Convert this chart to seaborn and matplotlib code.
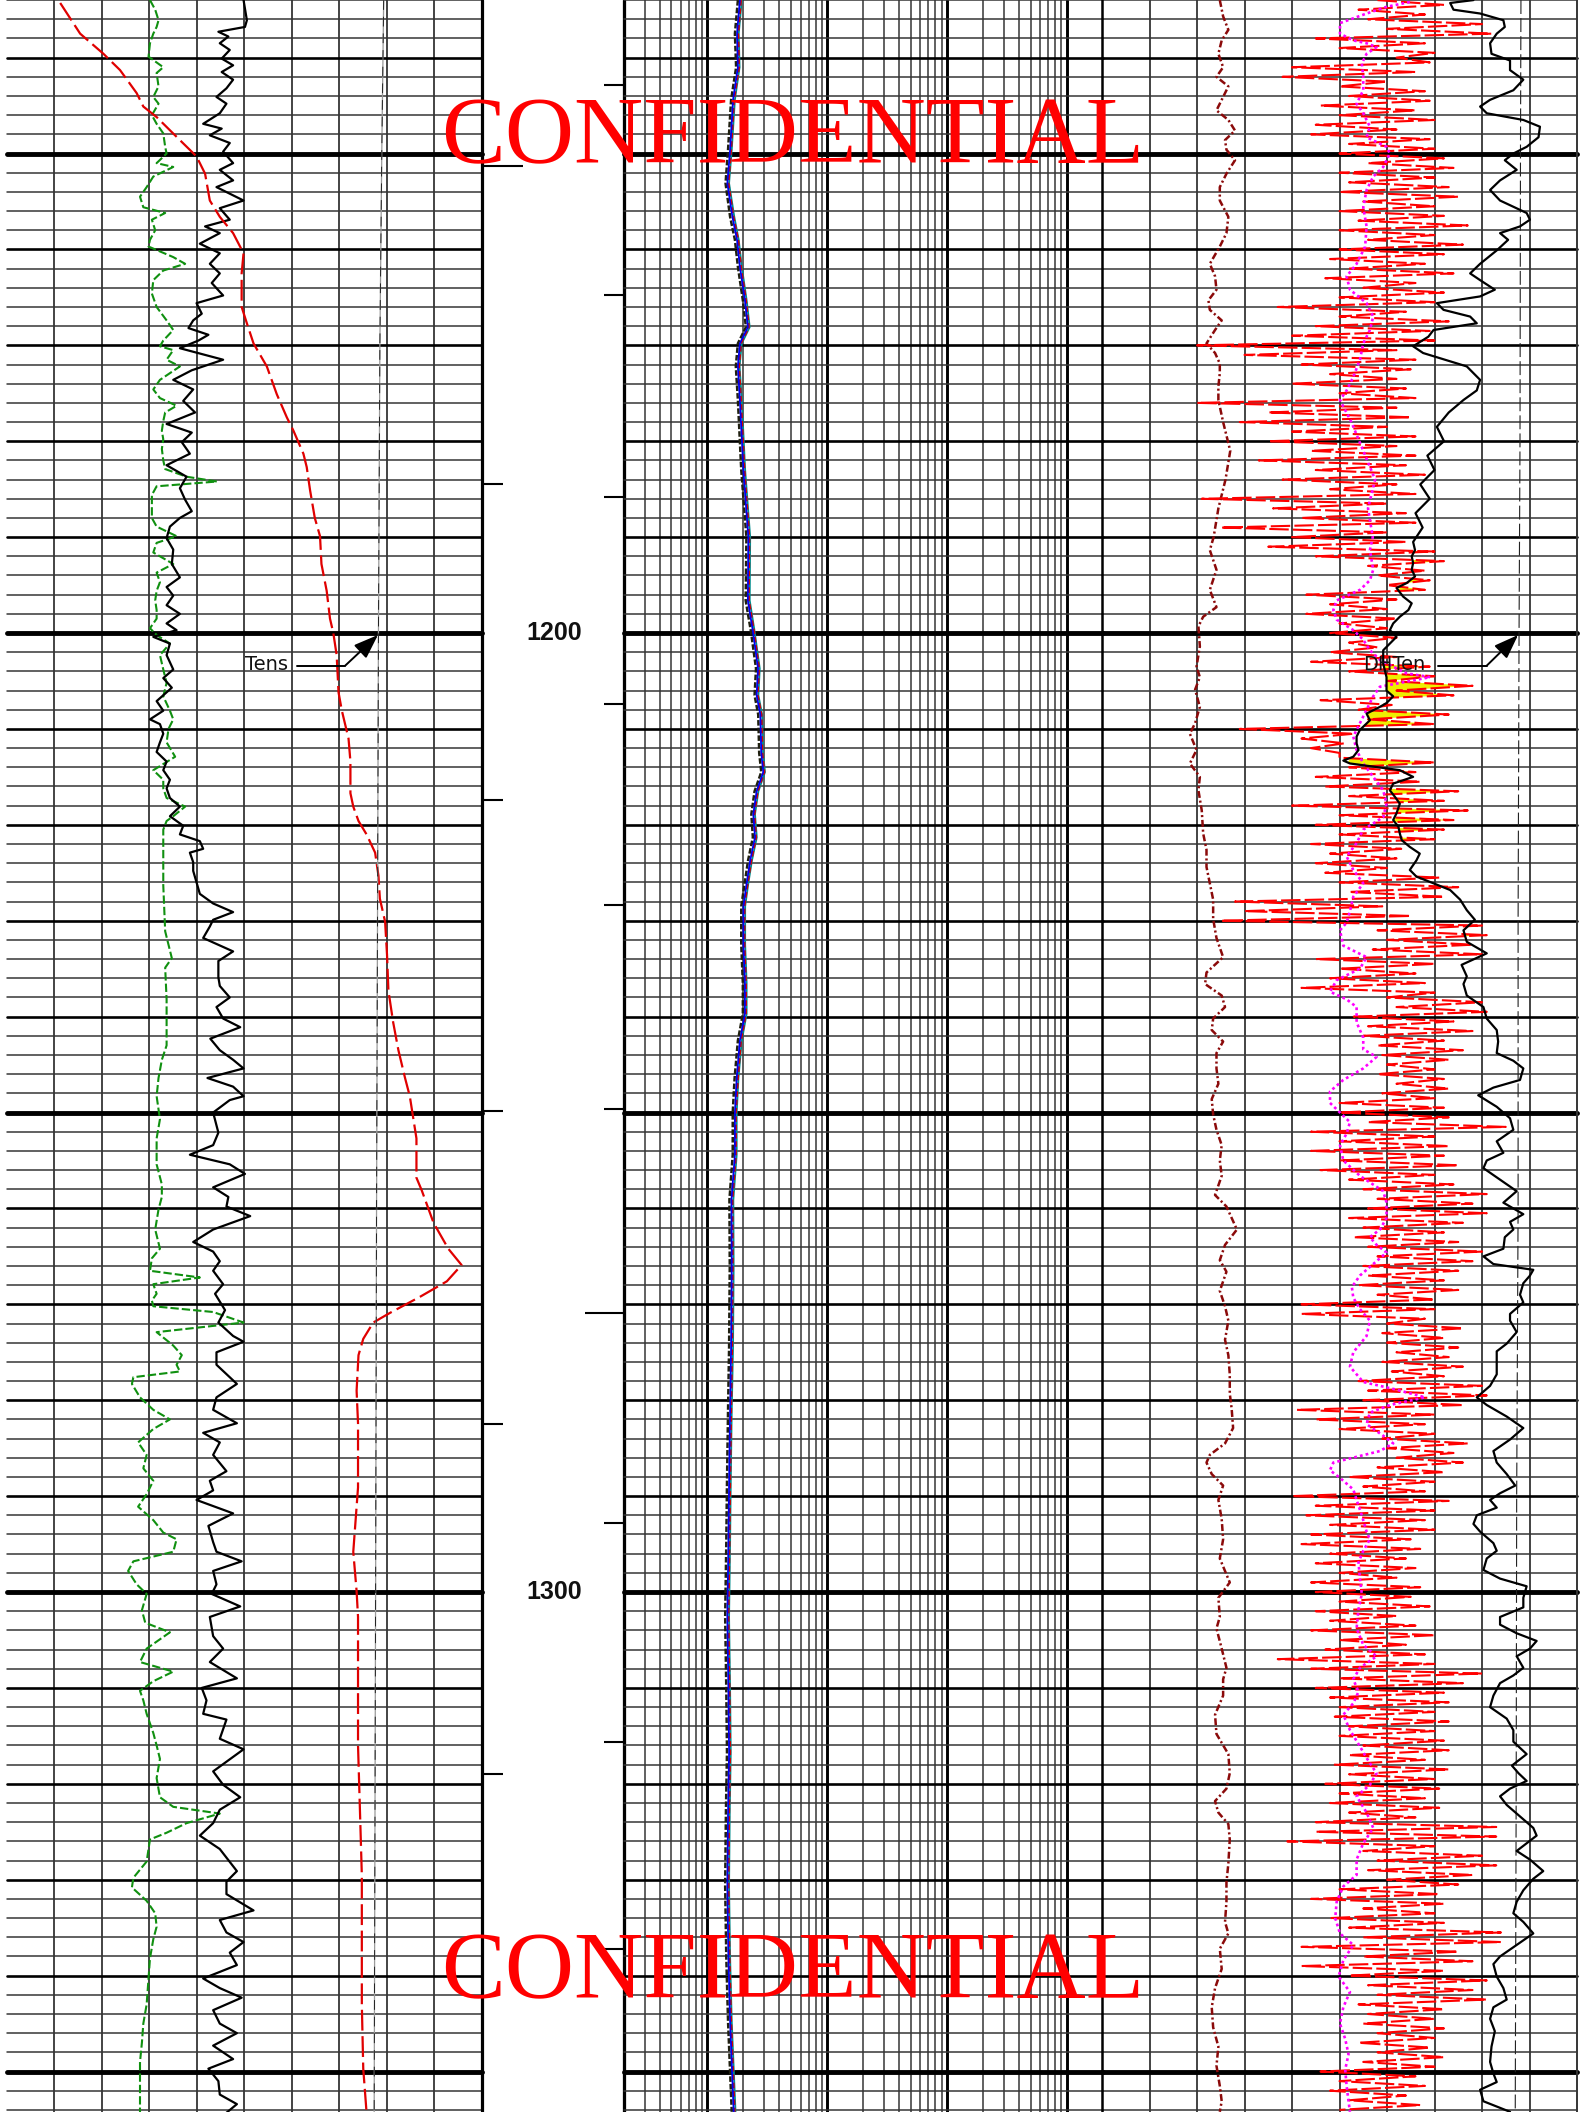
import numpy as np
import matplotlib
matplotlib.use("Agg")
import matplotlib.pyplot as plt
import seaborn as sns

sns.set_theme(style="white")
plt.rcParams["font.family"] = ["DejaVu Sans"]
plt.rcParams["lines.scale_dashes"] = False

TOP_DEPTH, BOTTOM_DEPTH = 1133.99, 1354.22
DEPTH_LABELS = [1200, 1300]
LEFT_TICKS = [1151.3, 1184.5, 1217.4, 1249.8, 1282.5, 1319.0]
RIGHT_TICKS = [1142.9, 1164.7, 1185.8, 1207.4, 1228.4, 1249.6, 1270.9, 1292.8, 1315.6, 1337.2]

# ---------------- Track 1 (linear 0-100) ----------------
GR_T1 = [
    (1134.0, 49.8), (1136.1, 50.5), (1136.8, 50.1), (1137.3, 44.5), (1137.8, 46.6), (1138.5, 44.8), (1139.2, 46.9), (1140.1, 45.2), (1140.8, 47.6), (1141.5, 45.2),
    (1142.3, 47.6), (1143.2, 46.2), (1144.1, 44.1), (1144.8, 46.2), (1145.8, 44.8), (1146.9, 41.3), (1147.4, 45.2), (1148.1, 42.7), (1148.9, 46.9), (1149.8, 45.5),
    (1151.0, 47.6), (1151.7, 44.8), (1152.8, 47.6), (1153.5, 44.1), (1154.9, 49.8), (1155.7, 44.8), (1156.9, 46.9), (1157.6, 41.7), (1158.3, 44.8), (1159.4, 40.6),
    (1160.4, 44.8), (1161.5, 42.7), (1162.5, 44.8), (1163.5, 43.1), (1164.8, 45.5), (1165.6, 39.9), (1166.7, 41.0), (1167.4, 39.2), (1168.2, 38.2), (1168.9, 42.4),
    (1169.5, 40.3), (1170.3, 36.4), (1171.5, 45.5), (1172.6, 38.9),
    (1173.6, 35.0), (1174.6, 39.2), (1175.8, 37.1), (1177.0, 39.6), (1178.2, 33.6), (1179.1, 38.9), (1180.1, 36.8), (1181.3, 38.5), (1182.5, 33.6), (1183.7, 37.8),
    (1184.9, 36.4), (1186.1, 37.5), (1187.3, 38.9), (1188.0, 36.4), (1188.9, 34.3), (1190.1, 33.6), (1191.3, 35.0), (1192.8, 34.7), (1194.2, 36.4), (1195.2, 33.6),
    (1196.1, 35.0), (1197.1, 33.6), (1198.0, 36.4), (1199.0, 33.6), (1199.7, 35.7), (1200.4, 30.8), (1201.1, 34.3), (1202.3, 33.6), (1203.8, 35.0), (1204.7, 32.9),
    (1205.7, 34.7), (1207.1, 31.5), (1208.1, 32.9), (1209.0, 30.1), (1209.5, 32.2), (1210.5, 32.9), (1211.4, 32.2), (1212.4, 31.5), (1213.4, 33.6), (1214.3, 32.9),
    (1215.3, 34.3), (1216.2, 33.6), (1217.2, 34.3), (1218.1, 36.4), (1219.1, 34.3), (1220.1, 37.1), (1221.0, 36.4), (1221.7, 40.6), (1222.5, 41.3), (1222.9, 38.5),
    (1223.9, 39.2), (1224.8, 39.2), (1226.0, 39.9), (1227.2, 40.6), (1228.2, 43.4), (1229.1, 47.6), (1229.9, 43.4), (1230.6, 42.7), (1231.8, 41.3), (1233.2, 47.6),
    (1234.2, 44.5), (1235.9, 44.5), (1236.8, 44.8), (1238.0, 46.9), (1239.0, 44.1), (1240.2, 45.5), (1241.1, 49.1), (1242.3, 42.8), (1243.5, 44.8), (1244.5, 47.6),
    (1245.4, 49.8), (1246.4, 42.2), (1247.3, 47.6), (1248.3, 49.8),
    (1248.7, 46.9), (1250.0, 43.4), (1252.1, 44.5), (1253.4, 43.4), (1254.4, 38.5), (1255.4, 46.9), (1256.4, 50.1), (1257.8, 43.4), (1258.8, 46.6), (1259.8, 46.2),
    (1260.8, 51.2), (1262.2, 43.4), (1263.5, 39.2), (1264.5, 43.4), (1265.5, 44.8), (1266.5, 43.4), (1267.9, 45.5), (1268.9, 43.8), (1270.6, 45.9), (1271.9, 44.5),
    (1273.3, 47.6), (1273.9, 49.8), (1275.0, 44.1), (1276.3, 44.1), (1278.3, 48.4), (1279.7, 44.1), (1281.0, 43.4), (1282.4, 48.4), (1283.4, 41.3), (1284.4, 44.8),
    (1285.7, 43.4), (1287.4, 46.2), (1288.4, 42.7), (1289.4, 43.4), (1290.4, 39.9), (1291.8, 47.6), (1293.1, 42.4), (1294.8, 43.4), (1295.8, 44.1), (1296.8, 49.4),
    (1297.8, 43.4), (1299.2, 44.1), (1300.2, 43.1), (1301.5, 49.1), (1302.6, 42.7), (1304.6, 43.4), (1305.9, 45.5), (1307.3, 42.7), (1309.0, 48.4), (1310.0, 41.0),
    (1311.3, 42.0), (1312.7, 41.3), (1313.3, 46.2), (1315.3, 44.8), (1316.4, 49.8), (1317.7, 46.2), (1318.7, 43.4), (1320.1, 45.5), (1321.4, 49.1), (1322.7, 44.8),
    (1324.1, 43.4), (1325.4, 40.6), (1326.8, 44.8), (1329.1, 48.4), (1330.2, 46.2), (1331.5, 46.2), (1333.2, 51.9), (1334.2, 44.8), (1335.5, 46.2), (1336.5, 49.8),
    (1337.6, 46.9), (1338.9, 48.4), (1340.3, 41.3), (1341.3, 44.8), (1342.3, 49.4), (1343.6, 43.4), (1345.0, 44.8), (1346.0, 48.4), (1347.3, 43.4), (1348.7, 47.6),
    (1349.7, 42.4), (1351.0, 44.5), (1352.4, 44.8), (1353.4, 48.4), (1354.3, 46.2),
]

SP_T1 = [
    (1134.0, 30.1), (1135.0, 31.2), (1136.1, 31.9), (1136.8, 31.5), (1137.5, 30.8), (1138.5, 30.1), (1139.9, 29.8), (1141.0, 32.9), (1141.6, 31.5), (1143.0, 31.9),
    (1144.1, 30.8), (1144.8, 31.9), (1146.0, 30.5), (1146.9, 31.5), (1147.9, 32.9), (1149.3, 33.3), (1150.0, 33.6), (1151.0, 31.5), (1151.4, 35.0), (1152.4, 30.8),
    (1153.5, 29.4), (1154.5, 28.0), (1155.6, 28.7), (1156.2, 33.3), (1156.9, 30.5), (1158.0, 31.2), (1159.0, 30.1), (1159.7, 29.8), (1160.8, 35.0), (1161.5, 37.5),
    (1162.2, 32.9), (1163.2, 30.8), (1164.6, 30.5), (1166.0, 31.5), (1167.4, 33.6), (1168.4, 35.0), (1169.5, 32.9), (1170.1, 32.2), (1170.5, 35.0), (1171.5, 33.6),
    (1172.2, 36.4),
    (1173.6, 32.2), (1174.6, 30.8), (1175.5, 32.2), (1176.3, 35.7), (1177.0, 33.3), (1177.9, 32.9), (1178.9, 32.6), (1179.8, 32.9), (1180.8, 32.6), (1182.0, 32.9),
    (1182.9, 33.3), (1183.7, 37.8), (1184.2, 44.2), (1184.7, 31.5), (1185.6, 30.5), (1186.5, 30.5), (1188.0, 30.5), (1188.9, 31.5), (1189.9, 35.7), (1190.6, 31.5),
    (1191.6, 30.8), (1192.8, 35.0), (1193.7, 31.5), (1194.7, 32.2), (1195.6, 31.5), (1196.6, 31.2), (1197.6, 31.5), (1198.5, 31.5), (1199.5, 30.1), (1200.2, 31.5),
    (1201.1, 34.3), (1202.3, 32.2), (1203.8, 32.9), (1205.2, 33.6), (1206.6, 32.9), (1208.1, 34.3), (1209.0, 35.0), (1210.0, 34.0), (1211.4, 33.6), (1212.9, 35.4),
    (1214.3, 30.8), (1215.3, 32.9), (1216.2, 32.9), (1217.2, 33.6), (1218.1, 37.5), (1219.1, 35.0), (1219.6, 33.6), (1220.5, 32.9), (1226.3, 32.9), (1231.1, 33.3),
    (1233.9, 34.7), (1234.9, 33.3), (1238.2, 33.6), (1243.0, 33.6), (1244.5, 32.6), (1246.4, 31.9), (1248.3, 31.5),
    (1250.7, 32.2), (1252.7, 31.5), (1255.4, 31.5), (1257.5, 32.6), (1258.8, 32.6), (1260.1, 31.9), (1262.2, 31.2), (1264.2, 32.2), (1265.2, 30.5), (1266.5, 30.1),
    (1267.2, 40.6), (1267.9, 30.8), (1268.9, 31.5), (1269.6, 30.5), (1270.2, 30.8), (1270.8, 43.4), (1271.9, 49.8), (1272.9, 31.5), (1274.3, 35.0), (1275.3, 36.8),
    (1276.3, 35.7), (1277.0, 36.4), (1277.6, 26.6), (1278.3, 26.3), (1279.7, 28.0), (1281.0, 30.8), (1282.0, 34.3), (1283.0, 30.8), (1284.4, 27.6), (1285.7, 29.4),
    (1287.1, 28.7), (1288.4, 30.8), (1289.8, 29.4), (1291.1, 27.6), (1292.5, 30.8), (1293.8, 32.9), (1294.5, 35.7), (1295.8, 35.0), (1296.8, 26.6), (1297.8, 25.5),
    (1299.2, 27.3), (1300.2, 29.4), (1301.9, 28.4), (1303.2, 29.1), (1304.2, 34.3), (1305.9, 29.4), (1307.3, 28.0), (1308.3, 35.0), (1309.3, 30.8), (1310.3, 28.0),
    (1311.3, 28.7), (1312.7, 29.4), (1314.7, 30.8), (1316.0, 31.5), (1317.4, 32.2), (1319.4, 31.5), (1321.4, 32.2), (1322.4, 35.0), (1323.1, 44.8), (1324.1, 37.8),
    (1325.1, 33.6), (1325.8, 30.1), (1326.8, 29.8), (1328.1, 29.4), (1329.8, 26.6), (1330.8, 26.3), (1332.2, 29.4), (1333.5, 31.2), (1334.9, 31.5), (1336.2, 30.8),
    (1338.2, 30.1), (1340.3, 29.8), (1343.0, 29.4), (1345.0, 28.7), (1347.0, 28.4), (1349.0, 28.0), (1351.0, 28.0), (1354.3, 28.0),
]

TENS_T1 = [
    (1134.3, 11.2), (1137.5, 15.4), (1139.6, 20.3), (1141.3, 23.8), (1143.7, 27.3), (1145.1, 28.7), (1146.2, 31.5), (1148.6, 36.4), (1150.3, 39.9), (1152.1, 41.7),
    (1154.9, 42.7), (1156.6, 44.8), (1158.3, 47.6), (1160.4, 49.8), (1162.5, 49.4), (1166.0, 49.4), (1167.7, 50.5), (1169.8, 51.9), (1172.2, 54.7),
    (1175.1, 56.8), (1177.5, 58.9), (1178.9, 60.3), (1181.3, 62.4), (1182.7, 63.1), (1185.1, 63.8), (1188.0, 64.8), (1189.9, 65.9), (1192.8, 66.2), (1195.6, 67.3),
    (1198.5, 68.0), (1200.0, 68.7), (1202.3, 69.4), (1206.2, 69.8), (1208.1, 70.5), (1211.0, 71.9), (1213.4, 72.3), (1216.7, 72.3), (1218.1, 72.9), (1219.6, 74.0),
    (1221.0, 75.7), (1222.9, 77.5), (1225.3, 78.2), (1227.7, 78.5), (1230.1, 79.6), (1233.5, 80.0), (1237.3, 80.3), (1240.6, 81.3), (1243.5, 82.4), (1246.4, 83.8),
    (1248.3, 84.8), (1252.7, 86.2), (1256.8, 86.2), (1258.1, 87.3), (1261.5, 89.8), (1264.2, 92.9), (1265.9, 95.7), (1267.6, 92.6), (1269.2, 87.0), (1270.9, 80.6),
    (1271.9, 77.1), (1273.6, 75.0), (1275.3, 74.0), (1279.0, 73.6), (1282.4, 73.9), (1289.1, 73.9), (1295.8, 72.9), (1299.9, 73.6), (1302.6, 73.9), (1309.3, 73.9),
    (1316.0, 73.9), (1322.7, 74.3), (1329.5, 74.7), (1336.2, 74.7), (1343.0, 74.7), (1349.7, 75.0), (1354.3, 75.7),
]

TENS_LINE_DEPTH = [1134, 1150, 1170, 1200, 1230, 1260, 1300, 1354.3]
TENS_LINE_T1 = [79.3, 78.9, 78.5, 78.2, 78.0, 77.8, 77.6, 77.3]

# ---------------- Track 2 (log 0.2-2000) ----------------
RES_DEPTH = [1134, 1137.5, 1141, 1144.4, 1149.6, 1153.1, 1156.6, 1159, 1161.8, 1165.3,
             1168.1, 1169.8, 1172.2, 1175.7, 1183, 1190, 1196.6, 1199.8, 1203.7, 1206.5,
             1208.5, 1212.5, 1214.5, 1216.5, 1218.9, 1221.3, 1223.7, 1226.1, 1228.5, 1232.5,
             1236.5, 1239.7, 1242.5, 1246.4, 1250, 1254.4, 1259.1, 1266, 1274.5, 1281,
             1288.6, 1295, 1302.6, 1310, 1316.7, 1323, 1330.7, 1338, 1344.8, 1354.2]
RES_BLUE = [1.87, 1.77, 1.80, 1.64, 1.55, 1.47, 1.62, 1.77, 1.87, 2.06,
            2.18, 1.87, 1.80, 1.87, 2.00, 2.20, 2.18, 2.40, 2.65, 2.58,
            2.77, 2.82, 2.93, 2.58, 2.42, 2.50, 2.28, 2.13, 2.00, 2.00,
            2.06, 2.06, 1.87, 1.76, 1.70, 1.70, 1.59, 1.60, 1.58, 1.55,
            1.52, 1.50, 1.47, 1.50, 1.52, 1.49, 1.47, 1.50, 1.55, 1.66]
RES_BLACK = [1.80, 1.70, 1.74, 1.58, 1.49, 1.42, 1.55, 1.70, 1.80, 1.98,
             2.10, 1.80, 1.73, 1.80, 1.92, 2.12, 2.09, 2.31, 2.55, 2.48,
             2.66, 2.71, 2.82, 2.48, 2.33, 2.40, 2.19, 2.05, 1.92, 1.92,
             1.98, 1.98, 1.80, 1.69, 1.63, 1.63, 1.53, 1.54, 1.52, 1.49,
             1.46, 1.44, 1.41, 1.44, 1.46, 1.43, 1.41, 1.44, 1.49, 1.60]
RES_RED = [1.91, 1.81, 1.84, 1.67, 1.58, 1.50, 1.65, 1.81, 1.91, 2.10,
           2.22, 1.91, 1.84, 1.91, 2.04, 2.24, 2.22, 2.45, 2.70, 2.63,
           2.83, 2.88, 2.99, 2.63, 2.47, 2.55, 2.33, 2.17, 2.04, 2.04,
           2.10, 2.10, 1.91, 1.80, 1.73, 1.73, 1.62, 1.63, 1.61, 1.58,
           1.55, 1.53, 1.50, 1.53, 1.55, 1.52, 1.50, 1.53, 1.58, 1.69]
RES_TEAL = [1.94, 1.83, 1.86, 1.70, 1.60, 1.52, 1.68, 1.83, 1.94, 2.13,
            2.26, 1.94, 1.86, 1.94, 2.07, 2.28, 2.26, 2.48, 2.74, 2.67,
            2.87, 2.92, 3.03, 2.67, 2.50, 2.59, 2.36, 2.20, 2.07, 2.07,
            2.13, 2.13, 1.94, 1.82, 1.76, 1.76, 1.65, 1.66, 1.64, 1.60,
            1.57, 1.55, 1.52, 1.55, 1.57, 1.54, 1.52, 1.55, 1.60, 1.72]

# ---------------- Track 3 (linear 0-100) ----------------
BROWN_T3 = [
    (1134.0, 24.8), (1135.7, 25.5), (1137.1, 26.6), (1138.2, 25.2), (1139.6, 24.5), (1141.0, 25.5), (1142.0, 24.1), (1143.0, 26.6), (1144.4, 25.2), (1145.5, 24.1),
    (1146.5, 26.6), (1147.6, 28.0), (1148.6, 25.9), (1149.6, 26.2), (1150.7, 28.0), (1152.1, 26.2), (1153.5, 24.8), (1154.9, 24.8), (1156.6, 26.6), (1158.3, 26.2),
    (1159.7, 24.8), (1161.5, 22.7), (1162.8, 23.8), (1164.2, 24.1), (1165.3, 22.4), (1166.3, 22.7), (1167.4, 25.2), (1168.4, 23.8), (1169.8, 22.0), (1170.8, 23.8),
    (1171.9, 24.8), (1172.9, 24.8), (1174.3, 24.5), (1175.7, 24.5), (1178.0, 25.5), (1181.0, 27.0), (1184.0, 26.0), (1187.0, 24.5), (1190.0, 23.5),
    (1191.35, 22.7), (1193.4, 24.1), (1195.5, 22.7), (1197.3, 24.1), (1198.3, 21.3), (1199.3, 20.3), (1201.4, 20.6), (1203.5, 19.9), (1204.6, 20.6), (1205.9, 19.6),
    (1207.7, 20.6), (1209.4, 19.6), (1210.5, 18.5), (1212.2, 19.9), (1213.6, 18.5), (1215.0, 20.6), (1216.4, 20.3), (1218.5, 21.0), (1220.9, 21.3), (1222.6, 22.0),
    (1224.4, 22.0), (1226.1, 22.7), (1227.8, 23.4), (1229.8, 23.4), (1231.8, 24.1), (1233.8, 25.5), (1235.4, 22.0), (1236.6, 21.7), (1237.8, 25.2), (1239.0, 25.9),
    (1240.2, 23.4), (1241.4, 23.1), (1242.6, 25.5), (1243.8, 24.1), (1245.4, 24.1), (1247.0, 24.5), (1248.6, 23.1), (1250.2, 23.4), (1251.8, 24.1), (1253.4, 25.2),
    (1255.0, 24.8), (1256.6, 25.2), (1258.6, 23.8), (1259.8, 26.2), (1261.0, 27.3), (1262.2, 28.4), (1263.8, 25.9), (1265.4, 24.8), (1266.6, 26.2), (1268.6, 24.8),
    (1270.2, 25.9), (1271.7, 26.6), (1273.7, 25.9), (1275.3, 26.6), (1277.3, 26.9), (1279.3, 26.9), (1280.9, 27.3), (1282.9, 27.6), (1284.5, 25.9), (1285.7, 22.7),
    (1286.5, 22.0), (1287.7, 23.1), (1288.9, 25.5), (1290.4, 24.5), (1292.4, 25.2), (1294.5, 25.5), (1296.5, 24.8), (1299.0, 26.9), (1300.6, 24.5), (1302.6, 24.8),
    (1303.8, 24.1), (1305.9, 25.2), (1307.9, 26.2), (1309.1, 25.5), (1310.8, 25.5), (1312.8, 23.8), (1314.8, 24.1), (1316.9, 26.6), (1318.9, 26.9), (1320.5, 26.2),
    (1321.8, 23.8), (1323.0, 24.5), (1324.2, 26.6), (1325.8, 26.9), (1328.3, 26.6), (1330.3, 26.2), (1332.3, 26.2), (1334.4, 25.9), (1335.6, 26.6), (1337.2, 24.8),
    (1339.3, 25.2), (1341.3, 23.8), (1343.3, 23.1), (1345.4, 23.4), (1347.4, 24.5), (1349.4, 24.1), (1351.5, 24.8), (1353.1, 25.2), (1354.2, 24.8),
]

MAGENTA_T3 = [
    (1134.2, 64.8), (1134.7, 59.9), (1135.4, 55.7), (1136.4, 50.1), (1137.5, 50.1), (1138.2, 52.9), (1138.5, 55.7), (1138.9, 57.8), (1139.6, 55.7), (1140.6, 54.7),
    (1142.0, 55.0), (1143.4, 55.0), (1144.8, 53.6), (1145.8, 55.0), (1147.2, 56.4), (1148.3, 55.7), (1149.3, 59.9), (1150.0, 60.6), (1151.4, 59.2), (1152.4, 57.1),
    (1153.8, 55.7), (1155.6, 55.0), (1157.6, 55.7), (1159.7, 55.4), (1161.5, 53.6), (1162.8, 51.5), (1164.2, 52.2), (1165.6, 55.7), (1167.0, 57.1), (1168.4, 56.4),
    (1169.8, 55.0), (1171.5, 54.3), (1173.3, 52.9), (1174.7, 51.5), (1175.7, 50.1), (1178.0, 52.5), (1181.0, 55.0), (1184.0, 57.5), (1187.0, 56.0), (1190.0, 57.0),
    (1191.35, 56.4), (1193.4, 57.1), (1194.5, 56.4), (1195.5, 54.3), (1196.6, 49.4), (1197.6, 48.7), (1198.6, 49.4), (1199.7, 52.9), (1200.7, 55.0), (1201.8, 56.4),
    (1202.8, 58.5), (1204.2, 64.1), (1204.6, 69.1), (1205.6, 58.5), (1206.6, 57.1), (1208.0, 55.7), (1209.4, 54.3), (1210.8, 52.9), (1212.2, 53.6), (1213.6, 55.0),
    (1215.0, 57.1), (1216.4, 59.2), (1217.8, 59.9), (1219.2, 59.2), (1220.5, 55.0), (1221.9, 53.6), (1223.3, 51.5), (1224.7, 52.9), (1226.1, 55.0), (1227.5, 52.9),
    (1229.0, 52.2), (1230.2, 51.5), (1231.0, 50.1), (1232.6, 50.8), (1233.8, 55.7), (1235.0, 54.3), (1236.2, 49.4), (1237.4, 48.0), (1238.2, 51.5), (1239.0, 53.6),
    (1240.6, 53.6), (1242.2, 55.0), (1243.4, 55.0), (1244.2, 57.8), (1245.4, 55.0), (1246.6, 50.8), (1247.8, 48.0), (1249.0, 48.0), (1250.0, 50.1), (1251.0, 52.2),
    (1252.2, 51.5), (1253.4, 50.1), (1255.0, 50.8), (1256.6, 54.3), (1258.2, 59.2), (1259.4, 59.9), (1261.0, 59.9), (1262.2, 58.5), (1263.0, 56.4), (1263.8, 57.8),
    (1264.6, 59.9), (1265.8, 57.1), (1267.0, 54.3), (1268.2, 52.6), (1269.3, 52.9), (1270.5, 54.3), (1271.7, 56.4), (1273.3, 55.7), (1275.0, 52.9), (1276.5, 52.2),
    (1278.1, 55.0), (1278.9, 62.0), (1279.7, 68.0), (1280.5, 60.6), (1281.3, 56.4), (1282.5, 55.7), (1283.7, 59.2), (1284.5, 61.3), (1285.3, 58.5), (1286.5, 48.7),
    (1287.3, 48.0), (1288.1, 50.1), (1289.3, 52.9), (1290.4, 53.6), (1292.0, 54.7), (1293.7, 55.7), (1294.5, 56.4), (1295.7, 55.0), (1296.9, 54.0), (1298.6, 54.3),
    (1300.2, 54.7), (1301.8, 54.0), (1303.8, 53.6), (1305.5, 55.0), (1306.7, 57.8), (1307.9, 54.3), (1309.1, 52.9), (1310.4, 54.0), (1311.6, 52.9), (1312.8, 50.8),
    (1314.4, 52.2), (1316.1, 54.3), (1317.3, 55.7), (1318.9, 57.8), (1320.1, 56.4), (1321.3, 53.6), (1323.0, 55.7), (1324.6, 57.1), (1326.2, 55.0), (1327.9, 53.6),
    (1329.5, 53.6), (1330.7, 50.8), (1332.3, 49.4), (1334.0, 49.1), (1335.6, 50.1), (1336.8, 52.9), (1338.4, 50.8), (1340.1, 49.8), (1341.7, 52.2), (1343.3, 50.8),
    (1345.0, 50.1), (1346.6, 51.2), (1348.2, 51.9), (1349.8, 51.2), (1351.5, 51.5), (1353.1, 51.9), (1354.2, 52.2),
]

BLACK_T3 = [
    (1134.0, 78.2), (1134.3, 73.3), (1135.0, 74.0), (1135.4, 79.6), (1136.1, 84.5), (1136.8, 84.8), (1137.5, 83.1), (1138.5, 81.7), (1139.6, 82.0), (1140.3, 85.9),
    (1141.3, 85.9), (1142.3, 88.7), (1143.4, 86.6), (1144.4, 81.7), (1145.1, 79.6), (1145.8, 81.0), (1146.5, 88.7), (1147.2, 92.2), (1148.3, 91.9), (1149.3, 89.4),
    (1150.0, 86.6), (1150.7, 84.8), (1151.7, 87.3), (1152.8, 83.8), (1153.8, 81.7), (1154.9, 83.8), (1156.2, 89.4), (1156.9, 90.1), (1157.6, 88.0), (1158.3, 83.8),
    (1159.0, 85.5), (1160.1, 83.1), (1161.5, 79.6), (1162.5, 77.5), (1163.2, 79.6), (1164.2, 82.7), (1164.9, 79.6), (1165.6, 70.5), (1166.3, 71.9), (1167.0, 77.5),
    (1167.7, 78.9), (1168.4, 69.8), (1169.1, 68.7), (1170.1, 65.5), (1170.8, 67.6), (1172.2, 76.8), (1173.6, 79.6), (1174.7, 78.9), (1175.7, 76.1), (1177.0, 73.0),
    (1178.5, 70.5), (1180.0, 72.0), (1181.5, 68.5), (1183.0, 70.0), (1184.5, 67.0), (1186.0, 69.0), (1187.5, 66.0), (1189.0, 67.5), (1190.5, 65.5), (1191.35, 65.9),
    (1192.0, 65.2), (1192.7, 65.5), (1193.4, 65.2), (1194.1, 65.9), (1194.8, 64.1), (1195.3, 62.0), (1196.2, 63.4), (1196.9, 65.2), (1197.6, 64.5), (1198.3, 62.7),
    (1199.0, 61.3), (1199.7, 60.6), (1200.4, 62.0), (1201.1, 60.6), (1201.8, 59.2), (1203.2, 59.2), (1204.6, 59.9), (1206.0, 59.9), (1206.6, 61.3), (1207.3, 59.9),
    (1207.7, 58.5), (1208.4, 55.7), (1209.1, 56.4), (1210.1, 54.3), (1210.8, 53.6), (1211.5, 53.6), (1212.2, 54.0), (1212.9, 52.9), (1213.3, 50.8), (1213.6, 52.2),
    (1214.3, 62.7), (1215.0, 65.5), (1215.7, 61.3), (1216.4, 60.6), (1217.1, 61.7), (1217.8, 62.7), (1218.8, 62.0), (1219.5, 61.3), (1220.2, 62.4), (1220.9, 62.7),
    (1221.6, 63.1), (1222.3, 64.8), (1223.0, 66.9), (1223.7, 66.2), (1224.7, 64.8), (1225.4, 66.2), (1226.1, 69.8), (1226.8, 73.3), (1227.8, 75.4), (1228.9, 76.8),
    (1229.9, 78.5), (1231.0, 76.1), (1232.2, 76.8), (1233.4, 81.0), (1234.6, 75.7), (1235.8, 76.8), (1236.6, 76.1), (1237.8, 76.8), (1239.0, 80.3), (1240.2, 81.0),
    (1241.4, 83.1), (1242.6, 83.4), (1243.8, 83.1), (1244.6, 86.6), (1245.4, 88.7), (1246.6, 88.0), (1247.4, 82.4), (1248.2, 79.2), (1249.4, 83.1), (1250.6, 85.9),
    (1251.8, 86.6), (1253.0, 83.1), (1254.2, 84.5), (1255.0, 81.0), (1255.8, 80.3), (1257.0, 83.8), (1258.2, 87.3), (1259.4, 84.5), (1260.6, 88.7), (1261.4, 85.9),
    (1262.2, 86.6), (1263.0, 84.8), (1264.2, 84.5), (1265.0, 80.3), (1265.8, 82.4), (1266.4, 90.8), (1267.0, 90.1), (1267.8, 88.7), (1269.0, 88.0), (1269.8, 88.7),
    (1271.0, 85.9), (1271.7, 85.9), (1272.9, 87.3), (1274.1, 85.2), (1274.9, 83.1), (1276.1, 83.1), (1277.3, 83.1), (1278.5, 81.7), (1279.7, 78.9), (1280.5, 81.0),
    (1281.7, 85.2), (1282.9, 88.7), (1284.1, 85.9), (1285.3, 82.4), (1286.5, 83.1), (1287.7, 85.2), (1288.9, 87.0), (1289.7, 83.8), (1290.4, 81.7), (1291.2, 83.1),
    (1292.0, 78.9), (1292.9, 78.2), (1293.7, 79.6), (1294.9, 82.4), (1295.7, 83.1), (1296.5, 81.0), (1297.7, 80.3), (1298.6, 83.8), (1299.4, 89.4), (1300.6, 88.7),
    (1301.6, 88.7), (1302.6, 83.8), (1303.4, 83.8), (1304.3, 87.3), (1305.1, 91.5), (1305.9, 90.1), (1306.7, 87.3), (1307.9, 88.7), (1308.7, 86.6), (1309.5, 83.8),
    (1310.8, 82.4), (1312.0, 81.7), (1313.2, 85.2), (1314.4, 86.6), (1315.6, 86.6), (1316.9, 89.4), (1318.1, 86.3), (1318.9, 87.7), (1319.7, 89.4), (1320.5, 85.9),
    (1321.3, 83.8), (1322.2, 85.2), (1323.4, 88.0), (1324.6, 90.8), (1325.4, 91.5), (1326.2, 89.4), (1327.0, 87.3), (1327.9, 90.1), (1329.1, 92.9), (1329.9, 90.8),
    (1331.1, 88.7), (1332.3, 87.3), (1333.5, 86.6), (1334.4, 88.7), (1335.6, 90.8), (1336.8, 87.3), (1338.0, 83.8), (1338.8, 82.4), (1340.1, 83.1), (1341.3, 84.5),
    (1342.5, 85.2), (1343.3, 82.4), (1344.5, 81.7), (1345.8, 82.7), (1347.4, 82.0), (1349.0, 81.7), (1350.2, 82.4), (1351.1, 83.1), (1351.9, 79.6), (1353.1, 80.3),
    (1354.2, 85.9),
]

DHTEN_DEPTH = [1134, 1150, 1180, 1200, 1230, 1260, 1290, 1320, 1354.3]
DHTEN_T3 = [88.2, 88.1, 88.0, 87.8, 87.6, 87.6, 87.3, 87.2, 87.0]

# spiky red curve, sampled every 0.5 m from 1134.0 m (one row = 5 m)
RED_START, RED_STEP = 1134.0, 0.5
RED_T3 = [
    58, 72, 54, 68, 56, 80, 60, 82, 45, 68,
    50, 70, 62, 69, 40, 66, 38, 60, 50, 68,
    52, 69, 46, 66, 50, 70, 45, 62, 44, 69,
    52, 70, 50, 72, 56, 74, 50, 70, 52, 73,
    50, 75, 55, 70, 50, 72, 54, 77, 50, 70,
    56, 76, 50, 72, 48, 68, 52, 74, 47, 66,
    55, 72, 50, 70, 37, 64, 50, 73, 45, 69,
    40, 70, 20, 62, 30, 66, 42, 65, 48, 62,
    40, 64, 50, 66, 20, 62, 35, 65, 29, 60,
    40, 66, 35, 62, 44, 66, 33, 64, 45, 68,
    38, 62, 48, 66, 21, 60, 36, 64, 42, 66,
    25, 60, 40, 64, 35, 70, 45, 72, 56, 68,
    58, 69, 60, 68, 43, 62, 48, 60, 43, 62,
    50, 60, 48, 62, 52, 58, 48, 62, 44, 69,
    52, 70, 60, 78, 62, 74, 46, 61, 54, 73,
    56, 70, 29, 53, 42, 51, 44, 50, 50, 70,
    52, 66, 45, 67, 47, 75, 52, 72, 40, 77,
    50, 74, 45, 72, 50, 70, 44, 63, 48, 62,
    45, 60, 47, 71, 50, 75, 52, 72, 28, 59,
    30, 65, 25, 80, 58, 81, 60, 78, 57, 80,
    45, 70, 50, 66, 48, 68, 42, 70, 60, 80,
    62, 81, 53, 74, 56, 78, 55, 72, 58, 76,
    59, 73, 60, 70, 58, 72, 62, 73, 59, 70,
    50, 72, 50, 73, 56, 85, 44, 70, 50, 73,
    44, 72, 50, 75, 46, 70, 52, 74, 55, 81,
    58, 78, 56, 81, 52, 76, 55, 72, 53, 75,
    56, 80, 58, 78, 55, 75, 56, 72, 54, 75,
    58, 70, 42, 70, 42, 68, 60, 76, 59, 72,
    60, 75, 62, 73, 59, 76, 61, 72, 54, 80,
    56, 81, 55, 76, 41, 70, 45, 68, 50, 70,
    59, 77, 60, 74, 62, 76, 58, 72, 52, 70,
    55, 68, 40, 73, 45, 70, 43, 68, 48, 70,
    44, 65, 42, 67, 48, 64, 45, 66, 50, 62,
    44, 67, 45, 65, 50, 69, 45, 62, 48, 66,
    44, 70, 50, 64, 47, 68, 37, 70, 44, 80,
    50, 76, 45, 72, 48, 73, 50, 70, 49, 73,
    52, 70, 50, 72, 55, 73, 52, 68, 49, 73,
    52, 70, 47, 71, 50, 68, 48, 71, 52, 66,
    45, 83, 45, 83, 39, 70, 55, 80, 58, 83,
    56, 78, 60, 75, 50, 71, 44, 72, 55, 70,
    48, 72, 52, 84, 55, 84, 42, 75, 55, 78,
    42, 72, 52, 81, 56, 78, 58, 81, 54, 72,
    56, 70, 55, 72, 58, 70, 54, 69, 58, 72,
    55, 70, 46, 66, 50, 68, 48, 64, 52, 67,
    50,
]

# ---------------- figure layout ----------------
W, H = 1583.0, 2112.0
fig = plt.figure(figsize=(W / 100, H / 100), dpi=100)
fig.patch.set_facecolor("white")


def make_ax(x0, x1):
    ax = fig.add_axes([x0 / W, 0.0, (x1 - x0) / W, 1.0])
    ax.axis("off")
    return ax


ax1 = make_ax(7, 482)
axd = make_ax(482, 624)
ax2 = make_ax(623.5, 1103)
ax3 = make_ax(1102, 1577)
ax2.set_xscale("log")

GRID_C = "#353535"


def depth_grid(ax):
    for d in np.arange(1134, 1356, 2):
        if d % 50 == 0:
            lw, c = 3.5, "black"
        elif d % 10 == 0:
            lw, c = 1.9, "black"
        else:
            lw, c = 1.1, GRID_C
        ax.axhline(d, color=c, lw=lw, zorder=1, clip_on=False)


for ax in (ax1, ax3):
    ax.set_xlim(0, 100)
    for v in range(10, 100, 10):
        ax.axvline(v, color=GRID_C, lw=1.3, zorder=1)
    depth_grid(ax)
ax3.axvline(100, color=GRID_C, lw=1.4, zorder=1, clip_on=False)
ax3.axvline(0, color="black", lw=1.8, zorder=1, clip_on=False)

ax2.set_xlim(0.2, 2000)
for dec in [0.1, 1, 10, 100, 1000]:
    for k in range(1, 10):
        v = k * dec
        if v < 0.2 or v > 2000:
            continue
        if k == 1:
            ax2.axvline(v, color="black", lw=2.1, zorder=1)
        else:
            ax2.axvline(v, color=GRID_C, lw=1.1, zorder=1)
ax2.axvline(0.2, color="black", lw=2.2, zorder=1, clip_on=False)
depth_grid(ax2)

# depth track
axd.set_xlim(0, 1)
axd.axvline(0, color="black", lw=2.3, clip_on=False)
axd.axvline(1, color="black", lw=2.3, clip_on=False)
for i, d in enumerate(LEFT_TICKS):
    axd.hlines(d, 0, 0.29 if i == 0 else 0.15, color="black", lw=1.5)
for i, d in enumerate(RIGHT_TICKS):
    axd.hlines(d, 0.725 if i == 6 else 0.86, 1, color="black", lw=1.5)
for d in DEPTH_LABELS:
    axd.text(0.507, d, str(d), ha="center", va="center", fontsize=18, fontweight="bold",
             family=["Liberation Sans", "DejaVu Sans"], color="#111111")

for ax in (ax1, axd, ax2, ax3):
    ax.set_ylim(BOTTOM_DEPTH, TOP_DEPTH)


def curve(ax, depth, vals, color, lw, dashes=None, z=3):
    sns.lineplot(x=np.asarray(vals, float), y=np.asarray(depth, float), orient="y", sort=False,
                 estimator=None, color=color, linewidth=lw, ax=ax, legend=False)
    line = ax.lines[-1]
    line.set_zorder(z)
    if dashes is not None:
        line.set_dashes(dashes)
    return line


def unzip(pairs):
    d, v = zip(*pairs)
    return list(d), list(v)


# track 1 curves
d, v = unzip(SP_T1)
curve(ax1, d, v, "#109010", 1.5, dashes=(6, 2.2))
d, v = unzip(GR_T1)
curve(ax1, d, v, "black", 1.6)
d, v = unzip(TENS_T1)
curve(ax1, d, v, "#E00000", 1.6, dashes=(15, 4))
curve(ax1, TENS_LINE_DEPTH, TENS_LINE_T1, "#9a9a9a", 0.9)
curve(ax1, TENS_LINE_DEPTH, TENS_LINE_T1, "#222222", 0.7, dashes=(7, 5))

# track 2 curves
curve(ax2, RES_DEPTH, RES_TEAL, "#008c8c", 1.3)
curve(ax2, RES_DEPTH, RES_BLACK, "#202010", 1.8, dashes=(4, 1.5))
curve(ax2, RES_DEPTH, RES_RED, "#d00000", 1.5, dashes=(4, 2))
curve(ax2, RES_DEPTH, RES_BLUE, "#0000ee", 1.3)

# track 3 curves
red_depth = RED_START + RED_STEP * np.arange(len(RED_T3))
red_vals = np.asarray(RED_T3, float)
bd, bv = unzip(BLACK_T3)
black_on_red = np.interp(red_depth, bd, bv)
ax3.fill_betweenx(red_depth, black_on_red, red_vals, where=red_vals > black_on_red,
                  color="#EEEE00", zorder=2, interpolate=True, linewidth=0)
d, v = unzip(BROWN_T3)
curve(ax3, d, v, "#8b0a0a", 1.8, dashes=(5, 2, 1.5, 2))
curve(ax3, red_depth, red_vals, "#ff0000", 1.5, dashes=(14, 3))
d, v = unzip(MAGENTA_T3)
curve(ax3, d, v, "#ff00ff", 1.9, dashes=(2, 2.2), z=4)
curve(ax3, bd, bv, "black", 1.6, z=5)
curve(ax3, DHTEN_DEPTH, DHTEN_T3, "#222222", 0.8, dashes=(10, 3))

for d in DEPTH_LABELS:
    ax3.set_ylim(BOTTOM_DEPTH, TOP_DEPTH)
for ax in (ax1, ax2, ax3):
    ax.set_ylim(BOTTOM_DEPTH, TOP_DEPTH)
ax1.set_xlim(0, 100)
ax3.set_xlim(0, 100)
ax2.set_xlim(0.2, 2000)

# curve name tags with arrows
ARROW = dict(arrowstyle="-|>,head_length=0.6,head_width=0.22", color="black", lw=1.4,
             mutation_scale=25, shrinkA=0, shrinkB=0)
ax1.text(50.1, 1203.25, "Tens", ha="left", va="center", fontsize=14, color="#111111", zorder=6)
ax1.plot([61.0, 71.2], [1203.4, 1203.4], color="black", lw=1.4, zorder=6)
ax1.annotate("", xy=(78.1, 1200.2), xytext=(71.2, 1203.4), arrowprops=ARROW, zorder=6)
ax3.text(55.0, 1203.25, "DHTen", ha="left", va="center", fontsize=14, color="#111111", zorder=6)
ax3.plot([70.7, 81.0], [1203.4, 1203.4], color="black", lw=1.4, zorder=6)
ax3.annotate("", xy=(87.6, 1200.2), xytext=(81.0, 1203.4), arrowprops=ARROW, zorder=6)

# watermark
for yb in (163, 1998):
    fig.text(793 / W, 1 - yb / H, "CONFIDENTIAL", ha="center", va="baseline", color="#ff0000",
             fontsize=69, family=["Liberation Serif", "DejaVu Serif"], zorder=20)

fig.savefig("out.png", dpi=100, facecolor="white")
